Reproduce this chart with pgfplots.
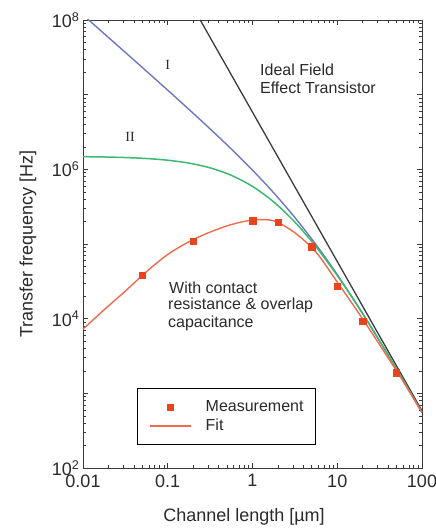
\documentclass[border=0pt]{standalone}
\usepackage{fontspec}
\setmainfont{Liberation Sans}
\newfontfamily\romanfont{Liberation Serif}
\usepackage{pgfplots}
\pgfplotsset{compat=1.18}
\definecolor{txtgray}{HTML}{2A2A2A}
\definecolor{framegray}{HTML}{3A3A3A}
\definecolor{idealgray}{HTML}{3C3C3C}
\definecolor{lineblue}{HTML}{6B78C2}
\definecolor{linegreen}{HTML}{3DB870}
\definecolor{linered}{HTML}{F06A50}
\definecolor{markred}{HTML}{E8441E}
\pgfplotsset{
  measlegend/.style={legend image code/.code={\path (0bp,0bp) (41bp,0bp); \draw[##1] plot coordinates {(20.5bp,0bp)};}},
  fitlegend/.style={legend image code/.code={\draw[##1] (0bp,0bp) -- (41bp,0bp);}},
}

\begin{document}
\begin{tikzpicture}
\begin{axis}[
  scale only axis, width=339bp, height=448bp,
  xmode=log, ymode=log,
  xmin=0.01, xmax=100, ymin=1e2, ymax=1e8,
  xtick={0.01,0.1,1,10,100}, xticklabels={0.01,0.1,1,10,100},
  ytick={1e2,1e3,1e4,1e5,1e6,1e7,1e8},
  yticklabels={10\textsuperscript{2},,10\textsuperscript{4},,10\textsuperscript{6},,10\textsuperscript{8}},
  tick align=inside, major tick length=5bp, minor tick length=3bp,
  tick style={framegray, line width=0.6bp},
  ticklabel style={font=\fontsize{18bp}{20bp}\selectfont, text=txtgray},
  xticklabel style={yshift=-3bp},
  axis line style={framegray, line width=0.9bp},
  xlabel={Channel length [µm]}, ylabel={Transfer frequency [Hz]},
  label style={font=\fontsize{18bp}{20bp}\selectfont, text=txtgray},
  xlabel style={at={(rel axis cs:0.475,-0.119)}, anchor=base},
  ylabel style={at={(rel axis cs:-0.162,0.5)}, anchor=center},
  legend style={at={(rel axis cs:0.159,0.1786)}, anchor=north west,
    draw=black, line width=0.8bp, inner xsep=12bp, inner ysep=11.5bp,
    font=\fontsize{16bp}{18bp}\selectfont, text=txtgray,
    nodes={inner sep=0pt, text height=12bp, text depth=3bp},
    row sep=3.5bp, column sep=14bp},
  legend cell align=left,
]
% ideal field effect transistor
\addplot[idealgray, line width=1.3bp, forget plot] coordinates {(0.2415,1e8) (100,583)};
% curve I
\addplot[lineblue, line width=1.4bp, smooth, forget plot] coordinates {
 (0.01,1.168e8) (0.017783,6.556e7) (0.031623,3.677e7) (0.056234,2.0574e7)
 (0.1,1.147e7) (0.17783,6.3525e6) (0.31623,3.479e6) (0.56234,1.8696e6)
 (1,9.744e5) (1.7783,4.849e5) (3.1623,2.2634e5) (5.6234,9.775e4)
 (10,3.891e4) (17.783,1.44e4) (31.623,5036) (56.234,1693.5) (100,555.3)};
% curve II
\addplot[linegreen, line width=1.5bp, smooth, forget plot] coordinates {
 (0.01,1.4781e6) (0.017783,1.4636e6) (0.031623,1.4384e6) (0.056234,1.3955e6)
 (0.1,1.3242e6) (0.17783,1.2115e6) (0.31623,1.0466e6) (0.56234,8.3134e5)
 (1,5.9024e5) (1.7783,3.6625e5) (3.1623,1.9662e5) (5.6234,9.1755e4)
 (10,3.7925e4) (17.783,1.4263e4) (31.623,5019) (56.234,1691.6) (100,555.1)};
% measurement
\addplot[only marks, mark=square*, mark size=3.2bp, markred, measlegend]
  coordinates {(0.05,3.85e4) (0.2,1.1e5) (1,2.05e5) (2,1.95e5) (5,9.2e4)
  (10,2.74e4) (20,9.3e3) (50,1.89e3)};
\addlegendentry{Measurement}
% fit
\addplot[linered, line width=1.4bp, smooth, fitlegend] coordinates {
 (0.01,7244) (0.017783,1.318e4) (0.031623,2.344e4) (0.056234,4.266e4)
 (0.1,7.244e4) (0.17783,1.072e5) (0.31623,1.445e5) (0.56234,1.82e5)
 (1,2.089e5) (1.7783,2.042e5) (3.1623,1.413e5) (5.6234,7.76e4)
 (10,3.09e4) (17.783,1.202e4) (31.623,4467) (56.234,1622) (100,550)};
\addlegendentry{Fit}

\node[font=\romanfont\fontsize{14bp}{16bp}\selectfont, text=txtgray] at (axis cs:0.1,2.5e7) {I};
\node[font=\romanfont\fontsize{14bp}{16bp}\selectfont, text=txtgray] at (axis cs:0.0359,2.71e6) {II};
\node[anchor=base west, inner sep=0pt, font=\fontsize{16bp}{18bp}\selectfont, text=txtgray] at (rel axis cs:0.522,0.875) {Ideal Field};
\node[anchor=base west, inner sep=0pt, font=\fontsize{16bp}{18bp}\selectfont, text=txtgray] at (rel axis cs:0.522,0.835) {Effect Transistor};
\node[anchor=base west, inner sep=0pt, font=\fontsize{16bp}{18bp}\selectfont, text=txtgray] at (rel axis cs:0.2537,0.3906) {With contact};
\node[anchor=base west, inner sep=0pt, font=\fontsize{16bp}{18bp}\selectfont, text=txtgray] at (rel axis cs:0.2507,0.3527) {resistance \& overlap};
\node[anchor=base west, inner sep=0pt, font=\fontsize{16bp}{18bp}\selectfont, text=txtgray] at (rel axis cs:0.2507,0.3147) {capacitance};
\end{axis}
\pgfresetboundingbox
\path (-83bp,-60bp) rectangle (353bp,468bp);
\end{tikzpicture}
\end{document}
